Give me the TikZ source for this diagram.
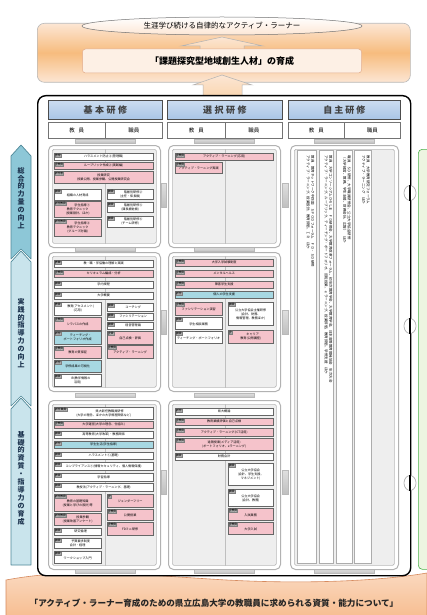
\documentclass[tikz,border=0pt]{standalone}
\usepackage{fontspec}
\setmainfont{Noto Sans CJK JP}
\usetikzlibrary{positioning,shapes.geometric}

\definecolor{hdrblue}{HTML}{A9C5E6}
\definecolor{pinkbox}{HTML}{F5C3CB}
\definecolor{cyanbox}{HTML}{A7D8E2}
\definecolor{peach}{HTML}{FCE6D4}
\definecolor{glow}{HTML}{F7BC7E}
\definecolor{ribbon}{HTML}{F7BE92}
\definecolor{ribbonline}{HTML}{D68A5E}
\definecolor{lvdark}{HTML}{8DC7D7}
\definecolor{lvlight}{HTML}{C9E4EC}
\definecolor{lvline}{HTML}{4F8797}
\definecolor{lvtext}{HTML}{1E3550}
\definecolor{nextgreen}{HTML}{EDF5E1}

\begin{document}
\begin{tikzpicture}[x=1pt, y=-1pt,
    sz/.style 2 args={minimum width=#1pt, minimum height=#2pt},
    itm/.style={draw=black!60, line width=0.35pt, anchor=north west, inner sep=0.3pt, align=center, font=\fontsize{3.1}{3.9}\selectfont, text=black},
    pk/.style={itm, fill=pinkbox},
    wt/.style={itm, fill=white},
    cy/.style={itm, fill=cyanbox},
    tagl/.style={anchor=north west, xshift=0.6pt, yshift=-0.6pt, fill=gray!60, draw=black!50, line width=0.2pt, inner sep=0.35pt, font=\fontsize{2.7}{3}\selectfont},
    tg/.style={label={[tagl]north west:#1}},
    hdr/.style={draw=black!70, line width=0.8pt, top color=hdrblue!60, bottom color=hdrblue, anchor=north west, inner sep=0pt, font=\bfseries\fontsize{9}{9}\selectfont, text=black!75},
    role/.style={draw=black!55, line width=0.5pt, fill=white, anchor=north west, inner sep=0pt, font=\fontsize{5.5}{6}\selectfont},
    panel/.style={draw=gray!60, line width=1pt, rounded corners=5pt, fill=white, anchor=north west},
    inpanel/.style={draw=gray!55, line width=0.7pt, fill=gray!13, rounded corners=1.5pt, anchor=north west},
    divl/.style={draw=gray!50, line width=0.6pt},
    gbar/.style={top color=gray!25, bottom color=gray!50, draw=gray!55, line width=0.3pt, inner sep=0pt},
    strip/.style={draw=gray!65, line width=0.9pt, fill=white, anchor=north west},
    vtext/.style={rotate=-90, anchor=north west, align=left, inner sep=0.4pt, font=\fontsize{3.5}{4.4}\selectfont, text=black},
    lvarrow/.style={draw=lvline, line width=0.7pt, line join=round},
    lvtxt/.style={align=center, inner sep=0pt, font=\bfseries\fontsize{7}{7.9}\selectfont, text=lvtext},
    blockup/.style={draw=gray!60, line width=0.5pt, top color=peach, bottom color=glow!60}
]
\useasboundingbox (0,0) rectangle (426,615);
\fill[white] (0,0) rectangle (426,615);

\node[draw=gray!55, line width=0.6pt, rounded corners=7pt, anchor=north west, sz={373}{59}, top color=peach, bottom color=peach, middle color=glow] (goalarea) at (37,23) {};
\node[ellipse, draw=black!55, line width=0.5pt, top color=white, bottom color=peach, sz={280}{18}, inner sep=0pt, font=\fontsize{7.5}{8}\selectfont] (learner) at (222,26) {生涯学び続ける自律的なアクティブ・ラーナー};
\draw[blockup] (200,50) -- (200,46) -- (181,46) -- (222,37) -- (263,46) -- (244,46) -- (244,50);
\node[draw=ribbonline!70, line width=0.5pt, rounded corners=3pt, fill=peach!60, sz={279}{24}, font=\bfseries\fontsize{9}{9}\selectfont] (talent) at (222,61) {「課題探究型地域創生人材」の育成};
\draw[blockup] (203,96) -- (203,85) -- (193,85) -- (222,75) -- (252,85) -- (242,85) -- (242,96);

\draw[draw=ribbonline, line width=0.6pt, top color=ribbon!55, bottom color=ribbon] (6,616) -- (6,580) .. controls (70,568) and (130,574) .. (210,579) .. controls (300,585) and (380,581) .. (427,573) -- (427,616) -- cycle;
\node[font=\bfseries\fontsize{8.6}{9}\selectfont, text=black!85] (basis) at (214,603) {「アクティブ・ラーナー育成のための県立広島大学の教職員に求められる資質・能力について」};

\node[draw=black, line width=1.4pt, rounded corners=8pt, fill=white, anchor=north west, sz={373}{480}] (frame) at (37,95) {};
\node[draw=green!40!gray, fill=nextgreen, line width=0.6pt, rounded corners=4pt, anchor=north west, sz={30}{420}] (nextstep) at (418,149) {};

\draw[lvarrow, fill=lvdark] (21,145) -- (31,156) -- (31,259) -- (21,249) -- (11,259) -- (11,156) -- cycle;
\node[lvtxt] (lv1) at (21,198) {総\\合\\的\\力\\量\\の\\向\\上};
\draw[lvarrow, fill=lvlight] (21,251) -- (31,262) -- (31,406) -- (21,396) -- (11,406) -- (11,262) -- cycle;
\node[lvtxt] (lv2) at (21,333) {実\\践\\的\\指\\導\\力\\の\\向\\上};
\draw[lvarrow, fill=lvlight] (21,398) -- (31,409) -- (31,565) -- (11,565) -- (11,409) -- cycle;
\node[lvtxt] (lv3) at (21,478) {基\\礎\\的\\資\\質\\・\\指\\導\\力\\の\\育\\成};

\node[hdr, sz={114}{19}] (basic) at (48,100) {基\hspace{2.5pt}本\hspace{2.5pt}研\hspace{2.5pt}修};
\node[hdr, sz={115}{19}] (elect) at (167,100) {選\hspace{2.5pt}択\hspace{2.5pt}研\hspace{2.5pt}修};
\node[hdr, sz={112}{19}] (self) at (288,100) {自\hspace{2pt}主\hspace{2pt}研\hspace{2pt}修};
\node[role, sz={57}{16}] (basicT) at (48,122) {教\hspace{4pt}員};
\node[role, sz={57}{16}] (basicS) at (105,122) {職員};
\node[role, sz={58}{16}] (electT) at (167,122) {教\hspace{4pt}員};
\node[role, sz={57}{16}] (electS) at (225,122) {職員};
\node[role, sz={56}{16}] (selfT) at (288,122) {教\hspace{4pt}員};
\node[role, sz={56}{16}] (selfS) at (344,122) {職員};

\foreach \y/\n in {141/a, 249.5/b, 395.5/c, 571.5/d} {
  \node[gbar, sz={60}{4}] (bb\n) at (105,\y) {};
  \node[gbar, sz={60}{4}] (sb\n) at (224,\y) {};
}
\node[gbar, sz={60}{4}] (fba) at (344,141) {};
\node[gbar, sz={60}{4}] (fbd) at (344,571.5) {};
\foreach \y/\n in {195/1, 322/2, 482/3} {
  \node[gbar, sz={5}{24}] (bs\n) at (164,\y) {};
  \node[gbar, sz={6}{24}] (sf\n) at (285.5,\y) {};
}

\node[panel, sz={112}{102}] (bp1) at (48,145) {};
\node[panel, sz={112}{139}] (bp2) at (48,252) {};
\node[panel, sz={112}{169}] (bp3) at (48,400) {};
\node[panel, sz={112}{102}] (sp1) at (168,145) {};
\node[panel, sz={112}{139}] (sp2) at (168,252) {};
\node[panel, sz={112}{169}] (sp3) at (168,400) {};
\node[panel, sz={108}{424}] (fp) at (290,145) {};
\node[inpanel, sz={104}{94}] (bi1) at (52,149) {};
\node[inpanel, sz={104}{131}] (bi2) at (52,256) {};
\node[inpanel, sz={104}{161}] (bi3) at (52,404) {};
\node[inpanel, sz={104}{94}] (si1) at (172,149) {};
\node[inpanel, sz={104}{131}] (si2) at (172,256) {};
\node[inpanel, sz={104}{161}] (si3) at (172,404) {};
\node[inpanel, sz={100}{416}] (fi) at (294,149) {};
\foreach \p in {bi1, bi2, bi3, si1, si2, si3} {
  \draw[divl] ([xshift=1pt]\p.north) -- ([xshift=1pt]\p.south);
}

% 基本研修
\node[wt, sz={99}{7}, tg=管理] (b11) at (54,153) {ハラスメント防止②(管理職)};
\node[pk, sz={99}{7}, tg=全教員] (b12) at (54,162) {ルーブリック作成②(実践編)};
\node[pk, sz={99}{12}, tg=新任者] (b13) at (54,171) {授業研究\\授業公開、授業参観、公開授業研究会};
\node[wt, sz={47}{11}, tg=職員] (b14) at (54,189) {\mbox{}\\組織の人材育成};
\node[pk, sz={47}{16}, tg=新任教員] (b15) at (54,201) {\hspace*{9pt}学生指導①\\教育テクニック\\(授業設計、ほか)};
\node[pk, sz={47}{17}, tg=新任教員] (b16) at (54,219) {\hspace*{9pt}学生指導②\\教育テクニック\\(グループ討論)};
\node[wt, sz={46}{10}, tg=職員] (b17) at (107,189) {\hspace*{6pt}階層別研修②\\(主任・係長級)};
\node[wt, sz={46}{10}, tg=職員] (b18) at (107,202) {\hspace*{6pt}階層別研修③\\(課長補佐級)};
\node[wt, sz={46}{11}, tg=職員] (b19) at (107,216) {\hspace*{6pt}階層別研修④\\(チーム研修)};

\node[wt, sz={99}{7}, tg=教職] (b21) at (54,260) {教・職・学協働の理解と実践};
\node[pk, sz={99}{7}, tg=全教員] (b22) at (54,270) {カリキュラム編成・分析};
\node[wt, sz={99}{7}, tg=職員] (b23) at (54,281) {学内規程};
\node[wt, sz={99}{7}, tg=職員] (b24) at (54,292) {大学概要};
\node[wt, sz={47}{13}, tg=教員] (b25) at (54,302) {\hspace*{6pt}教育(アセスメント)\\(応用)};
\node[pk, sz={47}{13}, tg=全教員] (b26) at (54,317) {\mbox{}\\シラバスの作成};
\node[cy, sz={47}{13}, tg=新任] (b27) at (54,331) {\hspace*{6pt}ティーチング・\\ポートフォリオ作成};
\node[pk, sz={47}{12}, tg=全教員] (b28) at (54,346) {\mbox{}\\教育の質保証};
\node[cy, sz={47}{12}, tg=新任] (b29) at (54,360) {\mbox{}\\学修成果の可視化};
\node[wt, sz={47}{12}, tg=職員] (b2a) at (54,374) {\hspace*{6pt}IR(教学情報の\\活用)};
\node[wt, sz={46}{8}, tg=職員] (b2b) at (107,303) {\hspace*{6pt}コーチング};
\node[wt, sz={46}{7}, tg=職員] (b2c) at (107,313) {\hspace*{6pt}ファシリテーション};
\node[wt, sz={46}{7}, tg=職員] (b2d) at (107,322) {\hspace*{6pt}経営管理論};
\node[pk, sz={46}{13}, tg=全員] (b2e) at (107,331) {\mbox{}\\自己点検・評価};
\node[pk, sz={46}{13}, tg=全教員] (b2f) at (107,345) {\mbox{}\\アクティブ・ラーニング};

\node[wt, sz={99}{12}, tg=新任\,職員] (b31) at (54,407) {\hspace*{12pt}県大新任教職員研修\\(大学の理念、ほかの大学規程関係など)};
\node[pk, sz={99}{7}, tg=全教員] (b32) at (54,421) {大学運営(大学の理念、仕組み)};
\node[wt, sz={99}{7}, tg=職員] (b33) at (54,431) {高等教育(大学改革)・教務関係};
\node[cy, sz={99}{7}, tg=新任] (b34) at (54,441) {学生生活(学生指導)};
\node[wt, sz={99}{7}, tg=職員] (b35) at (54,452) {ハラスメント①(基礎)};
\node[wt, sz={99}{8}, tg=職員] (b36) at (54,462) {コンプライアンス①(情報セキュリティ、個人情報保護)};
\node[wt, sz={99}{8}, tg=教員] (b37) at (54,473) {学習指導};
\node[wt, sz={99}{8}, tg=職員] (b38) at (54,483) {教授法(アクティブ・ラーニング、基礎)};
\node[pk, sz={47}{17}, tg=新任教員] (b39) at (54,494) {\mbox{}\\教育の基礎知識\\(授業と学びの設計)等};
\node[pk, sz={47}{12}, tg=新任教員] (b3a) at (54,513) {\hspace*{10pt}授業参観\\(授業改善アンケート)};
\node[wt, sz={47}{7}, tg=職員] (b3b) at (54,528) {\hspace*{6pt}研究倫理};
\node[wt, sz={47}{10}, tg=職員] (b3c) at (54,538) {\hspace*{6pt}予算要求制度\\会計・経理};
\node[wt, sz={47}{12}, tg=職員] (b3d) at (54,551) {\mbox{}\\ワークショップ入門};
\node[pk, sz={46}{13}, tg=全] (b3e) at (107,494) {\mbox{}\\ジェンダーフリー};
\node[pk, sz={46}{11}, tg=全教員] (b3f) at (107,509) {\mbox{}\\公開授業};
\node[pk, sz={46}{13}, tg=全教員] (b3g) at (107,522) {\mbox{}\\FDミニ研修};

% 選択研修
\node[pk, sz={98}{7}, tg=全教員] (s11) at (175,153) {アクティブ・ラーニング(応用)};
\node[pk, sz={47}{11}, tg=全教員] (s12) at (175,162) {\mbox{}\\アクティブ・ラーニング実践};

\node[pk, sz={98}{7}, tg=全教員] (s21) at (175,259) {大学入学試験制度};
\node[pk, sz={98}{7}, tg=全教員] (s22) at (175,270) {メンタルヘルス};
\node[pk, sz={98}{7}, tg=全教員] (s23) at (175,281) {障害学生支援};
\node[cy, sz={98}{7}, tg=新任] (s24) at (175,291) {個人の学生支援};
\node[pk, sz={47}{13}, tg=全教員] (s25) at (175,302) {\mbox{}\\ファシリテーション演習};
\node[wt, sz={47}{12}, tg=職員] (s26) at (175,317) {\mbox{}\\学生相談業務};
\node[wt, sz={47}{12}, tg=職員] (s27) at (175,331) {\mbox{}\\ティーチング・ポートフォリオ};
\node[wt, sz={45}{23}, tg=職員] (s28) at (228,302) {\mbox{}\\公立大学協会主催研修\\(会計、財務、\\情報管理、教務ほか)};
\node[pk, sz={45}{13}, tg=全] (s29) at (228,330) {\hspace*{4pt}キャリア\\教育(公開講座)};

\node[wt, sz={98}{7}, tg=新任] (s31) at (175,408) {県大概論};
\node[pk, sz={98}{7}, tg=全教員] (s32) at (175,418) {教育業績評価と自己点検};
\node[pk, sz={98}{8}, tg=全教員] (s33) at (175,428) {アクティブ・ラーニング(ICT活用)};
\node[pk, sz={98}{12}, tg=全教員] (s34) at (175,438) {遠隔授業(メディア活用)\\(ポートフォリオ、eラーニング)};
\node[wt, sz={98}{7}, tg=職員] (s35) at (175,453) {財務会計};
\node[wt, sz={45}{22}, tg=職員] (s36) at (228,463) {\mbox{}\\公立大学協会\\(会計、学生支援、\\マネジメント)};
\node[wt, sz={45}{17}, tg=職員] (s37) at (228,489) {\mbox{}\\公立大学協会\\(会計、教務)};
\node[pk, sz={45}{12}, tg=全教員] (s38) at (228,508) {\mbox{}\\入試業務};
\node[pk, sz={45}{12}, tg=全教員] (s39) at (228,522) {\mbox{}\\大学入試};

% 自主研修
\node[strip, sz={19}{413}] (st1) at (297,150) {};
\node[strip, sz={14}{413}] (st2) at (319,150) {};
\node[strip, sz={16}{413}] (st3) at (336,150) {};
\node[strip, sz={17}{413}] (st4) at (354,150) {};
\node[vtext] (st1t) at ([xshift=-2pt, yshift=-5pt]st1.north east) {教員　教育ネットワーク中四国　ＳＰＯＤフォーラム　ＦＤ・ＳＤ研修\\アクティブ・ラーニング、授業設計、教育評価、ＩＲ　ほか};
\node[vtext] (st2t) at ([xshift=-1pt, yshift=-5pt]st2.north east) {教員　大学コンソーシアムひろしま　ＦＤ研修会、大学教育改革フォーラム、初年次教育学会、大学教育学会、日本高等教育開発協会　年次大会\\アクティブ・ラーニング、ルーブリック、ティーチング・ポートフォリオ、反転授業、ｅラーニング、授業評価、教育評価、学修支援　ほか};
\node[vtext] (st3t) at ([xshift=-1.5pt, yshift=-5pt]st3.north east) {職員　ＳＤ研修、大学職員研修会、公立大学協会研修\\（大学経営、教務、学生支援、財務会計、広報）　ほか};
\node[vtext] (st4t) at ([xshift=-1.5pt, yshift=-5pt]st4.north east) {教員　大学教育研究フォーラム\\アクティブ・ラーニング　ほか};

\foreach \y/\n in {193/1, 326/2, 483/3} {
  \node[ellipse, draw=gray!70, fill=white, line width=0.6pt, sz={12}{15}, inner sep=0pt] (joint\n) at (410,\y) {};
  \draw[line width=1.2pt] (joint\n.north) -- (joint\n.south);
}
\end{tikzpicture}
\end{document}
